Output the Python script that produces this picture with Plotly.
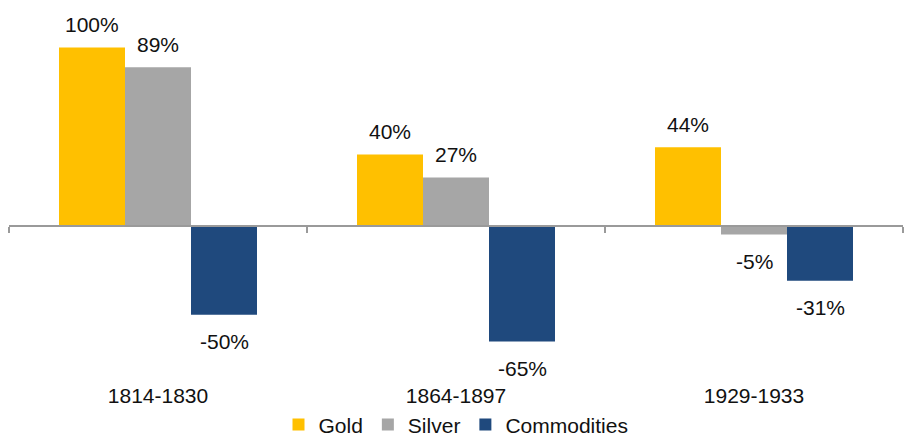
import plotly.graph_objects as go

# Data
periods = ["1814-1830", "1864-1897", "1929-1933"]
gold = [100, 40, 44]
silver = [89, 27, -5]
commodities = [-50, -65, -31]

series_names = ["Gold", "Silver", "Commodities"]
series_values = [gold, silver, commodities]
series_colors = ["#FFC000", "#A6A6A6", "#1F497D"]

FONT = "Arial, Liberation Sans, sans-serif"
TEXT_COLOR = "#111111"
AXIS_COLOR = "#9a9a9a"
FONT_SIZE = 21

fig = go.Figure()
for name, vals, color in zip(series_names, series_values, series_colors):
    fig.add_trace(go.Bar(x=periods, y=vals, name=name, marker=dict(color=color, line=dict(width=0))))

# invisible helper trace so the zero-level category axis is drawn
fig.add_trace(go.Scatter(x=periods, y=[0] * len(periods), xaxis="x2", mode="none",
                         showlegend=False, hoverinfo="skip"))

# value labels, offset within each group
offsets = [-66, 0, 66]
for vals, dx in zip(series_values, offsets):
    for p, v in zip(periods, vals):
        fig.add_annotation(x=p, y=v, xref="x", yref="y", text=f"{v}%", showarrow=False,
                           xshift=dx, yshift=23 if v >= 0 else -27,
                           font=dict(family=FONT, size=FONT_SIZE, color=TEXT_COLOR))

y_range = [-85, 120]
zero_pos = (0 - y_range[0]) / (y_range[1] - y_range[0])

fig.update_layout(
    width=906, height=437,
    margin=dict(l=9, r=3, t=12, b=60, autoexpand=False),
    plot_bgcolor="#FFFFFF", paper_bgcolor="#FFFFFF",
    font=dict(family=FONT, size=FONT_SIZE, color=TEXT_COLOR),
    barmode="group", bargap=0.3356, bargroupgap=0,
    showlegend=True,
    legend=dict(orientation="h", x=0.5, xanchor="center", yref="container", y=0.028,
                yanchor="middle", font=dict(size=FONT_SIZE), itemwidth=30, traceorder="normal"),
    xaxis=dict(showline=False, showgrid=False, zeroline=False, ticks="", ticklabelstandoff=4,
               automargin=False, tickfont=dict(size=FONT_SIZE, color=TEXT_COLOR)),
    xaxis2=dict(overlaying="x", matches="x", anchor="free", position=zero_pos, side="bottom",
                showline=True, linecolor=AXIS_COLOR, linewidth=2, ticks="outside",
                ticklen=6, tickwidth=2, tickcolor=AXIS_COLOR, tickson="boundaries",
                showticklabels=False, showgrid=False, zeroline=False, automargin=False),
    yaxis=dict(range=y_range, visible=False, showgrid=False, zeroline=False),
)

fig.write_html("out.html", config={"displayModeBar": False},
               post_script="document.body.style.margin='0';")
